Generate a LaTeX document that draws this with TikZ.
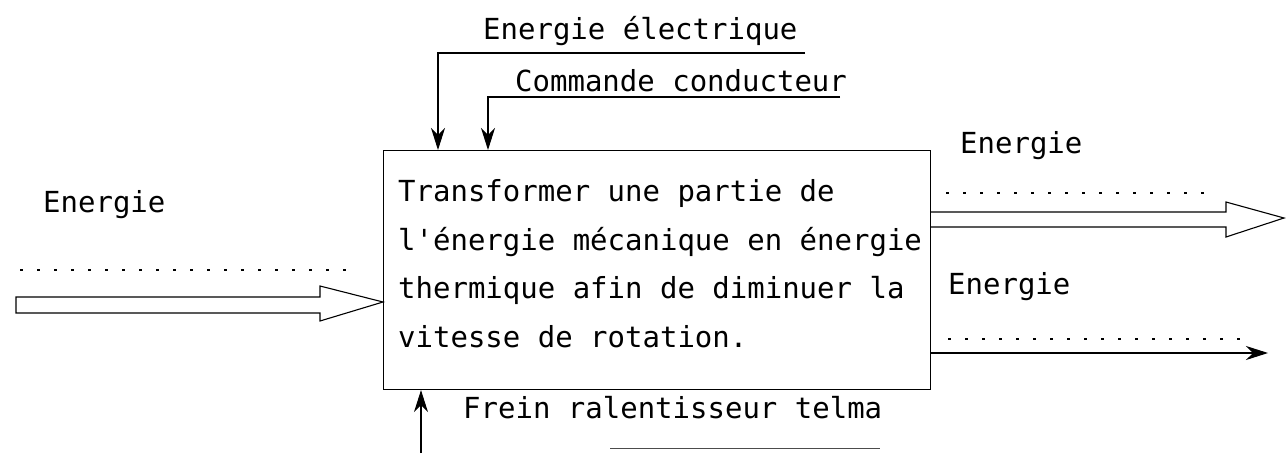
\documentclass[tikz,border=0pt]{standalone}
\usepackage{fontspec}
\newfontfamily\plotfont{DejaVu Sans Mono}
\usetikzlibrary{arrows.meta}
\begin{document}
\begin{tikzpicture}[x=1pt,y=-1pt,
  lbl/.style={anchor=base west,inner sep=0pt,font=\plotfont\fontsize{29}{29}\selectfont},
  ln/.style={line width=1.1pt},
  arr/.style={ln,-{Stealth[length=22pt,width=14pt,inset=7pt]}},
  dots/.style={line width=2pt,dash pattern=on 3pt off 14pt},
  hollow/.style={line width=1.1pt,fill=white,line join=miter}]
\useasboundingbox (0,0) rectangle (1286,453);
\fill[white] (0,0) rectangle (1286,453);
% main box
\node[draw,ln,minimum width=547pt,minimum height=239pt,anchor=north west,inner sep=0pt] (box) at (383,150) {};
\node[lbl] (t1) at (398,201) {Transformer une partie de};
\node[lbl] (t2) at (398,250) {l'énergie mécanique en énergie};
\node[lbl] (t3) at (398,298) {thermique afin de diminuer la};
\node[lbl] (t4) at (398,347) {vitesse de rotation.};
% top inputs
\node[lbl] (ee) at (483,39) {Energie électrique};
\node[lbl] (cc) at (515,91) {Commande conducteur};
\coordinate (eeEnd) at (805,53);
\coordinate (ccEnd) at (840,97);
\draw[arr] (eeEnd) -| ([xshift=55pt]box.north west);
\draw[arr] (ccEnd) -| ([xshift=105pt]box.north west);
% bottom support
\node[lbl] (fr) at (463,418) {Frein ralentisseur telma};
\coordinate (frS) at (421,453);
\draw[arr] (frS) -- ([xshift=38pt]box.south west);
\coordinate (ulA) at (610,448);
\coordinate (ulB) at (880,448);
\draw[line width=0.8pt,black!70] (ulA) -- (ulB);
% left input
\node[lbl] (eL) at (43,212) {Energie};
\coordinate (dL1) at (20,270);
\coordinate (dL2) at (352,270);
\draw[dots] (dL1) -- (dL2);
\draw[hollow] (16,297) -- (320,297) -- (320,286) -- (box.west |- 0,302) -- (320,321) -- (320,313) -- (16,313) -- cycle;
% right outputs
\node[lbl] (eR1) at (960,153) {Energie};
\coordinate (dR1a) at (946,193);
\coordinate (dR1b) at (1210,193);
\draw[dots] (dR1a) -- (dR1b);
\draw[hollow] (box.east |- 0,212) -- (1226,212) -- (1226,202) -- (1284,218) -- (1226,237) -- (1226,227) -- (box.east |- 0,227);
\node[lbl] (eR2) at (948,294) {Energie};
\coordinate (dR2a) at (948,339);
\coordinate (dR2b) at (1242,339);
\draw[dots] (dR2a) -- (dR2b);
\coordinate (r2e) at (1268,353);
\draw[arr] (box.east |- r2e) -- (r2e);
\end{tikzpicture}
\end{document}
